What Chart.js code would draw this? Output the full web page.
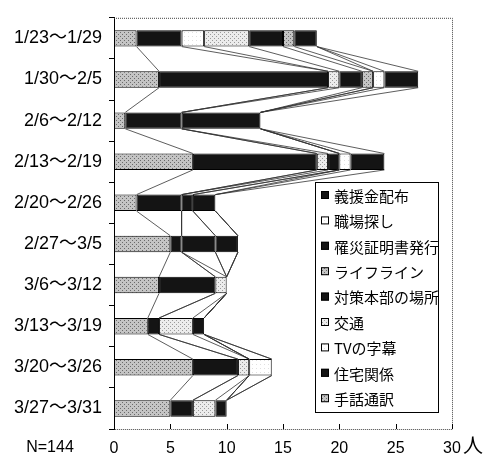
<!DOCTYPE html>
<html><head><meta charset="utf-8">
<script src="https://cdn.jsdelivr.net/npm/chart.js@4"></script>
<style>html,body{margin:0;padding:0;background:#fff}#wrap{width:490px;height:466px;position:relative}</style>
</head><body><div id="wrap"><canvas id="c" width="490" height="466"></canvas></div>
<script>
// ---- data ----
const categories = ['1/23～1/29','1/30～2/5','2/6～2/12','2/13～2/19','2/20～2/26','2/27～3/5','3/6～3/12','3/13～3/19','3/20～3/26','3/27～3/31'];
// series in stacking order (left to right)
const seriesNames = ['手話通訳','住宅関係','TVの字幕','交通','対策本部の場所','ライフライン','罹災証明書発行','職場探し','義援金配布'];
const signLanguage = [2, 4, 1, 7, 2, 5, 4, 3, 7, 5];
const housing      = [4,15, 5,11, 4, 1, 5, 1, 4, 2];
const tvCaptions   = [2, 0, 0, 0, 0, 0, 0, 0, 0, 0];
const transport    = [4, 1, 0, 1, 0, 0, 1, 3, 1, 2];
const hqLocation   = [3, 2, 7, 1, 1, 3, 0, 1, 0, 1];
const lifeline     = [1, 1, 0, 0, 0, 0, 0, 0, 0, 0];
const disasterCert = [2, 0, 0, 0, 2, 2, 0, 0, 0, 0];
const jobSearch    = [0, 1, 0, 1, 0, 0, 0, 0, 2, 0];
const reliefMoney  = [0, 3, 0, 3, 0, 0, 0, 0, 0, 0];
const seriesValues = [signLanguage, housing, tvCaptions, transport, hqLocation, lifeline, disasterCert, jobSearch, reliefMoney];
const xTicks = [0, 5, 10, 15, 20, 25, 30];
const unitLabel = '人';
const nLabel = 'N=144';

// ---- styles ----
const cv = document.getElementById('c');
const ctx = cv.getContext('2d');
function pattern(bg, fg, sparse) {
  const c = document.createElement('canvas'); c.width = c.height = 4;
  const x = c.getContext('2d');
  x.fillStyle = bg; x.fillRect(0, 0, 4, 4);
  x.fillStyle = fg; x.fillRect(0, 0, 1, 1);
  if (!sparse) x.fillRect(2, 2, 1, 1);
  return ctx.createPattern(c, 'repeat');
}
const grayDots = pattern('#c4c4c4', '#6a6a6a', false);
const lightDots = pattern('#ececec', '#9a9a9a', false);
const whiteFill = pattern('#ffffff', '#e0e0e0', true);
const blackFill = '#141414';
const styleKinds = [grayDots, blackFill, whiteFill, lightDots, blackFill, grayDots, blackFill, whiteFill, blackFill];

const datasets = seriesNames.map((name, i) => ({
  label: name,
  data: seriesValues[i],
  backgroundColor: styleKinds[i],
  borderColor: '#000',
  borderWidth: 1,
  borderSkipped: false,
  categoryPercentage: 1.0,
  barPercentage: 0.4
}));

const FONT = "'Liberation Sans', 'Noto Sans CJK JP', sans-serif";
const JFONT = "'Noto Sans CJK JP', 'Liberation Sans', sans-serif";

const framePlugin = {
  id: 'frame',
  beforeDatasetsDraw(chart) {
    const a = chart.chartArea, c = chart.ctx, xs = chart.scales.x;
    c.save();
    c.strokeStyle = '#444'; c.lineWidth = 1; c.setLineDash([1, 1]);
    c.beginPath();
    c.moveTo(a.left, a.top + 0.5); c.lineTo(a.right + 0.5, a.top + 0.5);
    c.lineTo(a.right + 0.5, a.bottom + 0.5); c.lineTo(a.left, a.bottom + 0.5);
    c.stroke();
    c.setLineDash([]);
    c.strokeStyle = '#000';
    c.beginPath();
    xTicks.forEach(v => { const px = Math.round(xs.getPixelForValue(v)) + 0.5; c.moveTo(px, a.bottom); c.lineTo(px, a.bottom - 5); });
    c.stroke();
    c.restore();
  }
};

const seriesLinesPlugin = {
  id: 'seriesLines',
  afterDatasetsDraw(chart) {
    const c = chart.ctx;
    c.save(); c.strokeStyle = '#333'; c.lineWidth = 0.8;
    chart.data.datasets.forEach((ds, i) => {
      const meta = chart.getDatasetMeta(i);
      for (let j = 0; j < meta.data.length - 1; j++) {
        const b1 = meta.data[j], b2 = meta.data[j + 1];
        c.beginPath();
        c.moveTo(b1.x, b1.y + b1.height / 2);
        c.lineTo(b2.x, b2.y - b2.height / 2);
        c.stroke();
      }
    });
    c.restore();
  }
};

const legendPlugin = {
  id: 'boxLegend',
  afterDraw(chart) {
    const c = chart.ctx;
    const L = 315, T = 182, W = 123, H = 230, step = 25.4, first = 195;
    c.save();
    c.fillStyle = '#fff'; c.fillRect(L, T, W, H);
    c.strokeStyle = '#000'; c.lineWidth = 1; c.strokeRect(L + 0.5, T + 0.5, W, H);
    const n = chart.data.datasets.length;
    for (let k = 0; k < n; k++) {
      const ds = chart.data.datasets[n - 1 - k];
      const y = first + k * step;
      c.fillStyle = ds.backgroundColor; c.fillRect(321, y - 4, 8, 8);
      c.strokeStyle = '#000'; c.strokeRect(321.5, y - 3.5, 7, 7);
      c.fillStyle = '#000'; c.font = '15px ' + JFONT; c.textBaseline = 'middle'; c.textAlign = 'left';
      c.fillText(ds.label, 334, y + 1);
    }
    c.restore();
  }
};

const textPlugin = {
  id: 'extraText',
  afterDraw(chart) {
    const c = chart.ctx;
    c.save(); c.fillStyle = '#000'; c.textBaseline = 'middle';
    c.font = '16px ' + FONT; c.textAlign = 'center';
    c.fillText(nLabel, 50, 448);
    c.font = '20px ' + JFONT; c.textAlign = 'left';
    c.fillText(unitLabel, 463, 445);
    c.restore();
  }
};

new Chart(cv, {
  type: 'bar',
  data: { labels: categories, datasets },
  options: {
    responsive: false,
    animation: false,
    indexAxis: 'y',
    layout: { padding: { left: 0, right: 38, top: 9, bottom: 0 } },
    plugins: { legend: { display: false }, tooltip: { enabled: false } },
    scales: {
      x: {
        stacked: true, min: 0, max: 30,
        afterBuildTicks(s) { s.ticks = xTicks.map(v => ({ value: v })); },
        ticks: { color: '#000', font: { size: 16, family: FONT }, padding: 10, maxRotation: 0 },
        grid: { display: false, drawTicks: false },
        border: { display: false },
        afterFit(s) { s.height = 37; }
      },
      y: {
        stacked: true,
        ticks: { color: '#000', font: { size: 18, family: FONT }, padding: 7 },
        grid: { display: true, drawOnChartArea: false, drawTicks: true, tickLength: 5, color: '#000', offset: true },
        border: { display: true, color: '#000', width: 1 },
        afterFit(s) { s.width = 114; }
      }
    }
  },
  plugins: [framePlugin, seriesLinesPlugin, legendPlugin, textPlugin]
});
</script>
</body></html>
